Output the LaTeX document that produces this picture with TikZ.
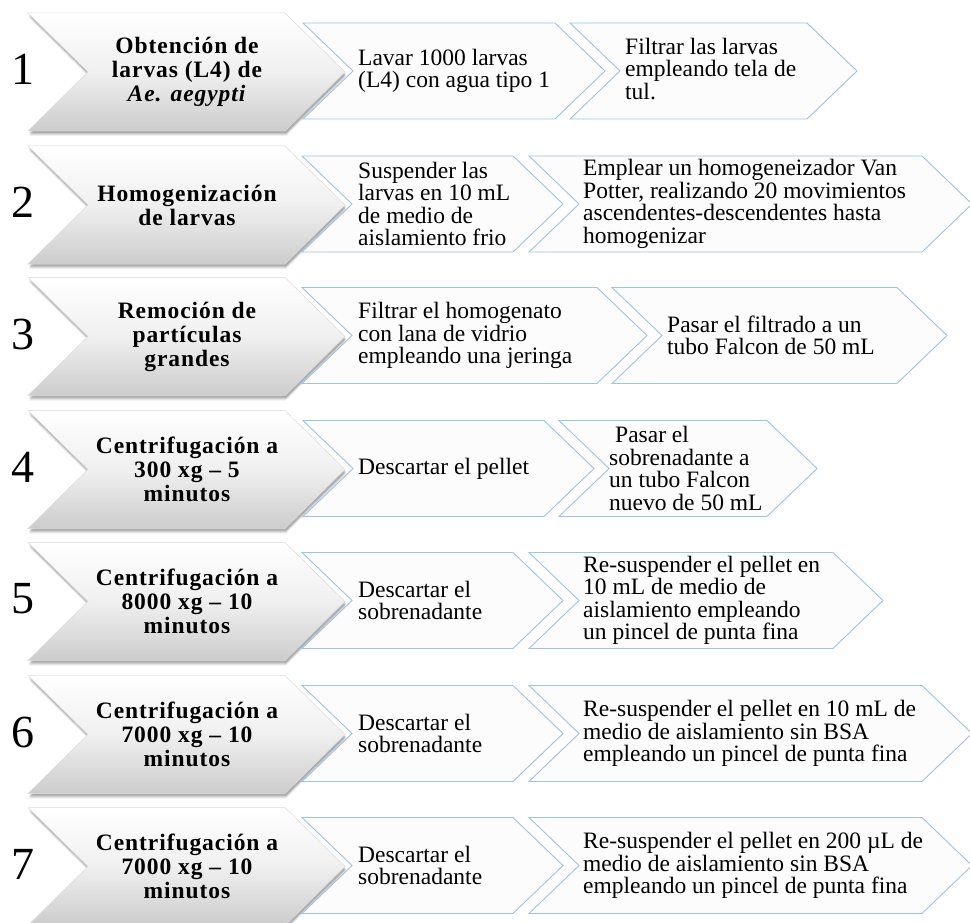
\documentclass[tikz,border=0pt]{standalone}
\usepackage{fontspec}
\setmainfont{Liberation Serif}
\newfontfamily\grayfont[LetterSpace=4]{Liberation Serif}
\definecolor{chevblue}{RGB}{157,195,230}
\definecolor{chevfill}{RGB}{252,252,252}
\tikzset{
  whitech/.style={fill=chevfill, draw=chevblue, line width=0.9pt, line join=miter},
  graych/.style={top color=white, bottom color=gray!40, middle color=gray!12, draw=gray!28, line width=0.5pt},
  grayshadow/.style={fill=black, draw=none},
  wtext/.style={anchor=west, inner sep=0pt, align=left, font=\fontsize{23.5}{22.5}\selectfont},
  gtext/.style={inner sep=0pt, align=center, font=\grayfont\bfseries\fontsize{23.5}{24}\selectfont},
  numtext/.style={inner sep=0pt, font=\fontsize{46}{46}\selectfont},
}
\newcommand\graychev[1]{%
  \foreach \d/\o in {5/0.06,4/0.08,3/0.10,2/0.12}{%
    \path[grayshadow, opacity=\o, shift={(1,\d)}] (28,#1-59) -- (285,#1-59) -- (345,#1) -- (285,#1+59) -- (28,#1+59) -- (88,#1) -- cycle;}
  \path[graych] (28,#1-59) -- (285,#1-59) -- (345,#1) -- (285,#1+59) -- (28,#1+59) -- (88,#1) -- cycle;}
\newcommand\whitechev[3]{%
  \path[whitech] (#1,#3-48) -- (#2,#3-48) -- (#2+50,#3) -- (#2,#3+48) -- (#1,#3+48) -- (#1+50,#3) -- cycle;}
\begin{document}
\begin{tikzpicture}[x=1pt,y=-1pt]
\useasboundingbox (0,0) rectangle (970,923);
\fill[white] (0,0) rectangle (970,923);
% row 1
\graychev{72}
\whitechev{303}{555}{71}
\whitechev{570}{807}{71}
\node[numtext] (n1) at (23,69) {1};
\node[gtext] (g1) at (187,72) {Obtención de\\larvas (L4) de\\\textit{Ae. aegypti}};
\node[wtext] (a1) at (358,71) {Lavar 1000 larvas\\(L4) con agua tipo 1};
\node[wtext] (b1) at (625,69) {Filtrar las larvas\\empleando tela de\\tul.};
% row 2
\graychev{205}
\whitechev{302}{513}{204}
\whitechev{529}{922}{204}
\node[numtext] (n2) at (23,202) {2};
\node[gtext] (g2) at (187,205) {Homogenización\\de larvas};
\node[wtext] (a2) at (358,204) {Suspender las\\larvas en 10 mL\\de medio de\\aislamiento frio};
\node[wtext] (b2) at (583,204) {Emplear un homogeneizador Van\\Potter, realizando 20 movimientos\\ascendentes-descendentes hasta\\homogenizar};
% row 3
\graychev{336.5}
\whitechev{302}{597}{335.5}
\whitechev{612}{897}{335.5}
\node[numtext] (n3) at (23,334) {3};
\node[gtext] (g3) at (187,336.5) {Remoción de\\partículas\\grandes};
\node[wtext] (a3) at (358,335.5) {Filtrar el homogenato\\con lana de vidrio\\empleando una jeringa};
\node[wtext] (b3) at (667,335.5) {Pasar el filtrado a un\\tubo Falcon de 50 mL};
% row 4
\graychev{469.5}
\whitechev{303}{544}{468.5}
\whitechev{559}{767}{468.5}
\node[numtext] (n4) at (23,467) {4};
\node[gtext] (g4) at (187,469.5) {Centrifugación a\\300 xg – 5\\minutos};
\node[wtext] (a4) at (358,468.5) {Descartar el pellet};
\node[wtext] (b4) at (609,468.5) {\hspace*{6pt}Pasar el\\sobrenadante a\\un tubo Falcon\\nuevo de 50 mL};
% row 5
\graychev{601.5}
\whitechev{302}{513}{600.5}
\whitechev{529}{833}{600.5}
\node[numtext] (n5) at (23,599) {5};
\node[gtext] (g5) at (187,601.5) {Centrifugación a\\8000 xg – 10\\minutos};
\node[wtext] (a5) at (358,600.5) {Descartar el\\sobrenadante};
\node[wtext] (b5) at (583,600.5) {Re-suspender el pellet en\\10 mL de medio de\\aislamiento empleando\\un pincel de punta fina};
% row 6
\graychev{734.5}
\whitechev{302}{513}{733.5}
\whitechev{529}{922}{733.5}
\node[numtext] (n6) at (23,732) {6};
\node[gtext] (g6) at (187,734.5) {Centrifugación a\\7000 xg – 10\\minutos};
\node[wtext] (a6) at (358,733.5) {Descartar el\\sobrenadante};
\node[wtext] (b6) at (583,733.5) {Re-suspender el pellet en 10 mL de\\medio de aislamiento sin BSA\\empleando un pincel de punta fina};
% row 7
\graychev{866.5}
\whitechev{302}{513}{865.5}
\whitechev{529}{922}{865.5}
\node[numtext] (n7) at (23,864) {7};
\node[gtext] (g7) at (187,866.5) {Centrifugación a\\7000 xg – 10\\minutos};
\node[wtext] (a7) at (358,865.5) {Descartar el\\sobrenadante};
\node[wtext] (b7) at (583,865.5) {Re-suspender el pellet en 200 µL de\\medio de aislamiento sin BSA\\empleando un pincel de punta fina};
\end{tikzpicture}
\end{document}
